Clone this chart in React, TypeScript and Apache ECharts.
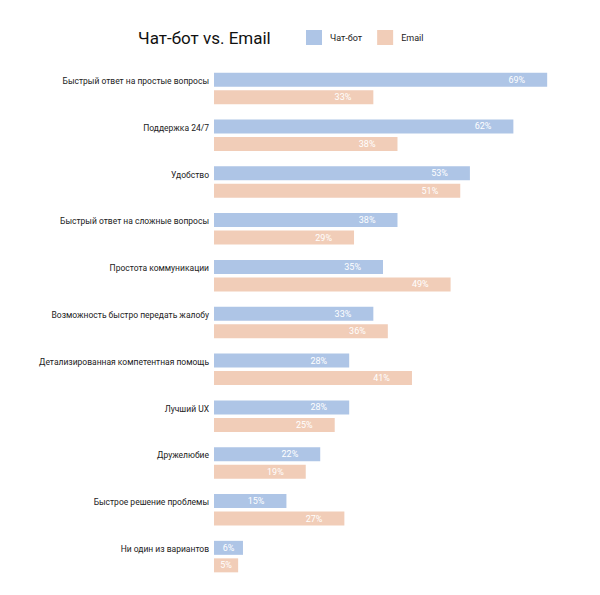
import React, { useEffect, useRef } from "react";
import * as echarts from "echarts";

const categories = [
  "Быстрый ответ на простые вопросы",
  "Поддержка 24/7",
  "Удобство",
  "Быстрый ответ на сложные вопросы",
  "Простота коммуникации",
  "Возможность быстро передать жалобу",
  "Детализированная компетентная помощь",
  "Лучший UX",
  "Дружелюбие",
  "Быстрое решение проблемы",
  "Ни один из вариантов",
];
const chatbotValues = [69, 62, 53, 38, 35, 33, 28, 28, 22, 15, 6];
const emailValues = [33, 38, 51, 29, 49, 36, 41, 25, 19, 27, 5];
const seriesNames = ["Чат-бот", "Email"];
const colors = ["#aec5e6", "#f1cdb8"];

function toData(vals: number[]) {
  return vals.map((v) => ({
    value: v,
    label:
      v < 10
        ? { position: "inside" as const }
        : { position: "insideRight" as const, distance: 22 },
  }));
}

export default function App() {
  const ref = useRef<HTMLDivElement>(null);
  useEffect(() => {
    if (!ref.current) return;
    const chart = echarts.init(ref.current, undefined, { renderer: "svg" });
    const labelCfg = {
      show: true,
      color: "#ffffff",
      fontSize: 9,
      fontFamily: "Roboto",
      formatter: "{c}%",
    };
    chart.setOption({
      animation: false,
      backgroundColor: "#ffffff",
      textStyle: { fontFamily: "Roboto" },
      title: {
        text: "Чат-бот vs. Email",
        left: 125,
        top: 16,
        textStyle: { fontSize: 17, fontWeight: "normal", color: "#111", fontFamily: "Roboto" },
      },
      legend: {
        left: 293,
        top: 17,
        itemWidth: 16,
        itemHeight: 15,
        itemGap: 15,
        icon: "rect",
        data: seriesNames,
        textStyle: { fontSize: 9, color: "#222", padding: [0, 0, 0, 3], fontFamily: "Roboto" },
      },
      grid: { left: 206, top: 57, width: 338, height: 515, containLabel: false },
      xAxis: {
        type: "value",
        min: 0,
        max: 70,
        show: false,
      },
      yAxis: {
        type: "category",
        data: categories,
        inverse: true,
        axisLine: { show: false },
        axisTick: { show: false },
        splitLine: { show: false },
        axisLabel: {
          fontSize: 8.5,
          color: "#222",
          margin: 5,
          verticalAlign: "bottom",
          padding: [0, 0, 3, 0],
          fontFamily: "Roboto",
        },
      },
      series: [
        {
          name: seriesNames[0],
          type: "bar",
          data: toData(chatbotValues),
          barWidth: 14,
          barGap: "25%",
          itemStyle: { color: colors[0] },
          label: labelCfg,
        },
        {
          name: seriesNames[1],
          type: "bar",
          data: toData(emailValues),
          barWidth: 14,
          barGap: "25%",
          itemStyle: { color: colors[1] },
          label: labelCfg,
        },
      ],
    });
    return () => chart.dispose();
  }, []);
  return <div ref={ref} style={{ width: 584, height: 579 }} />;
}
